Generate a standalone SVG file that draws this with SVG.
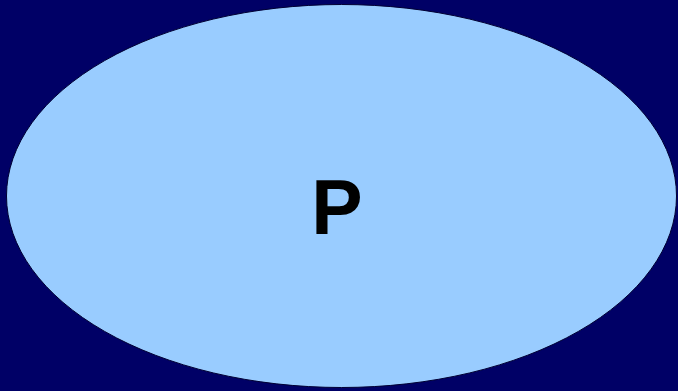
<svg xmlns="http://www.w3.org/2000/svg" width="678" height="391" viewBox="0 0 678 391">
<style>
.node{fill:#99CCFF;stroke:#000033;stroke-width:1}
.lbl{font-family:"Liberation Sans",Arial,sans-serif;font-weight:bold;font-size:77px;fill:#000000}
</style>
<rect x="0" y="0" width="678" height="391" fill="#000066"/>
<g id="connectors"></g>
<g id="node-P">
<ellipse class="node" cx="341.5" cy="196" rx="335" ry="191.5"/>
<text class="lbl" x="337" y="234" text-anchor="middle">P</text>
</g>
</svg>
